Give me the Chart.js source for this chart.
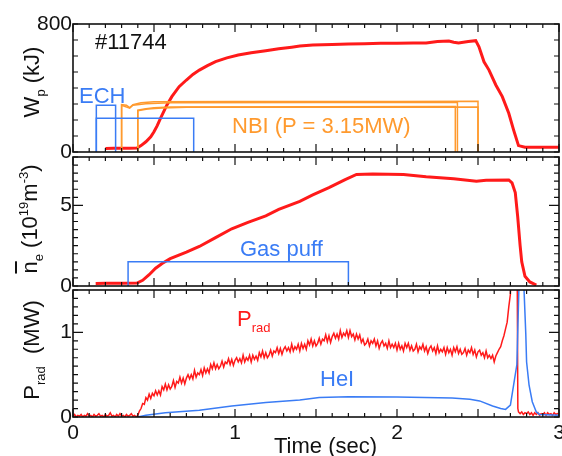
<!DOCTYPE html>
<html><head><meta charset="utf-8">
<script src="https://cdn.jsdelivr.net/npm/chart.js@4/dist/chart.umd.min.js"></script>
<style>
html,body{margin:0;padding:0;background:#fff;}
#wrap{position:relative;width:562px;height:456px;overflow:hidden;background:#fff;font-family:"Liberation Sans",Arial,sans-serif;}
#wrap canvas{position:absolute;left:0;top:0;}
.lab{position:absolute;white-space:nowrap;font-size:22px;line-height:1;}
.rot{transform:translate(-50%,-50%) rotate(-90deg);}
.lab sub{font-size:13px;vertical-align:-6px;line-height:0;}
.lab sup{font-size:13px;vertical-align:9px;line-height:0;}
.ov{text-decoration:overline;}
</style></head><body>
<div id="wrap">
<canvas id="c1" width="562" height="456"></canvas>
<canvas id="c2" width="562" height="456"></canvas>
<canvas id="c3" width="562" height="456"></canvas>
<div class="lab rot" style="left:32px;top:82px;color:#111">W<sub>p</sub> (kJ)</div>
<div class="lab rot" style="left:30px;top:219px;color:#111"><span class="ov">n</span><sub>e</sub> (10<sup>19</sup>m<sup>-3</sup>)</div>
<div class="lab rot" style="left:32px;top:350px;color:#111">P<sub>rad</sub> &nbsp;(MW)</div>
<div class="lab" style="left:95px;top:31px;color:#111">#11744</div>
<div class="lab" style="left:79px;top:85px;color:#3a7cf5">ECH</div>
<div class="lab" style="left:232px;top:115px;color:#ff9a2e">NBI (P = 3.15MW)</div>
<div class="lab" style="left:240px;top:238px;color:#3a7cf5">Gas puff</div>
<div class="lab" style="left:237px;top:308px;color:#ff1a1a">P<sub>rad</sub></div>
<div class="lab" style="left:320px;top:368px;color:#3a7cf5">HeI</div>
<div class="lab" style="left:274px;top:435px;color:#111">Time (sec)</div>
</div>
<script>
// ---- tick labels ----
const timeTicks = [0, 1, 2, 3];
const wpTicks = [0, 800];
const neTicks = [0, 5];
const pradTicks = [0, 1];

// ---- panel 1: Wp (kJ) and heating pulses, [time s, value] ----
const wpRed = [[0.20,22],[0.25,23],[0.30,23],[0.35,24],[0.395,25],[0.42,40],[0.45,64],[0.48,95],[0.50,127],[0.52,165],[0.54,210],[0.56,252],[0.58,294],[0.61,346],[0.655,408],[0.70,450],[0.74,485],[0.78,512],[0.83,540],[0.88,565],[0.95,588],[1.02,606],[1.10,620],[1.19,633],[1.27,645],[1.35,655],[1.40,662],[1.48,669],[1.60,672],[1.70,675],[1.80,677],[1.90,679],[2.00,680],[2.10,681],[2.18,682],[2.25,690],[2.32,694],[2.35,686],[2.38,681],[2.44,690],[2.486,696],[2.506,658],[2.537,564],[2.568,512],[2.61,419],[2.65,346],[2.69,242],[2.72,137],[2.75,40],[2.79,30],[3.00,30]];
const echA = [[0.144,0],[0.144,292],[0.263,292],[0.263,0]];
const echB = [[0.144,0],[0.144,211],[0.745,211],[0.745,0]];
const nbiA = [[0.30,0],[0.30,296],[0.33,292],[0.35,278],[0.37,296],[0.42,308],[0.50,314],[1.00,315],[2.00,316],[2.50,317],[2.50,0]];
const nbiB = [[0.30,0],[0.30,292],[0.35,274],[0.37,292],[0.45,302],[0.60,308],[1.50,309],[2.373,310],[2.373,0]];
const nbiC = [[0.40,0],[0.40,262],[0.45,270],[0.50,277],[0.60,281],[1.50,283],[2.36,284],[2.36,0]];
const nbiD = [[0.40,0],[0.40,258],[0.46,268],[0.55,275],[0.70,279],[1.50,280],[2.50,281],[2.50,0]];

// ---- panel 2: line density (10^19 m^-3) ----
const neRed = [[0.14,0.15],[0.20,0.17],[0.30,0.17],[0.395,0.18],[0.43,0.35],[0.47,0.70],[0.51,1.10],[0.55,1.40],[0.60,1.70],[0.70,2.10],[0.78,2.45],[0.88,3.00],[0.98,3.55],[1.08,3.95],[1.19,4.35],[1.27,4.75],[1.40,5.25],[1.48,5.65],[1.58,6.10],[1.68,6.60],[1.75,6.92],[1.85,6.95],[2.04,6.92],[2.18,6.78],[2.35,6.65],[2.49,6.50],[2.55,6.56],[2.69,6.58],[2.71,6.40],[2.73,5.80],[2.745,4.30],[2.76,2.50],[2.77,1.50],[2.79,0.60],[2.82,0.25],[2.86,0.06]];
const gasPuff = [[0.34,0],[0.34,1.5],[1.70,1.5],[1.70,0]];

// ---- panel 3: radiated power (MW) and HeI ----
const pradRed = [
[0.00,0.01],[0.01,0.03],[0.02,0.00],[0.03,0.02],[0.04,0.01],[0.05,0.03],[0.06,0.00],[0.07,0.02],[0.08,0.01],[0.09,0.04],
[0.10,0.01],[0.11,0.02],[0.12,0.00],[0.13,0.03],[0.14,0.01],[0.15,0.02],[0.16,0.04],[0.17,0.01],[0.18,0.02],[0.19,0.00],
[0.20,0.03],[0.21,0.01],[0.22,0.02],[0.23,0.05],[0.24,0.01],[0.25,0.02],[0.26,0.00],[0.27,0.03],[0.28,0.01],[0.29,0.04],
[0.30,0.01],[0.31,0.02],[0.32,0.00],[0.33,0.03],[0.34,0.01],[0.35,0.02],[0.36,0.04],[0.37,0.01],[0.38,0.02],[0.39,0.00],
[0.40,0.02],[0.41,0.07],[0.42,0.10],[0.43,0.16],[0.44,0.15],[0.45,0.23],[0.46,0.20],[0.47,0.27],[0.48,0.22],[0.49,0.28],
[0.50,0.25],[0.51,0.31],[0.52,0.26],[0.53,0.31],[0.54,0.26],[0.55,0.36],[0.56,0.32],[0.57,0.39],[0.58,0.32],[0.59,0.38],
[0.60,0.33],[0.61,0.36],[0.62,0.43],[0.63,0.35],[0.64,0.42],[0.65,0.40],[0.66,0.47],[0.67,0.40],[0.68,0.46],[0.69,0.39],
[0.70,0.46],[0.71,0.50],[0.72,0.45],[0.73,0.50],[0.74,0.45],[0.75,0.55],[0.76,0.47],[0.77,0.52],[0.78,0.50],[0.79,0.56],
[0.80,0.49],[0.81,0.58],[0.82,0.52],[0.83,0.57],[0.84,0.52],[0.85,0.62],[0.86,0.57],[0.87,0.64],[0.88,0.57],[0.89,0.62],
[0.90,0.57],[0.91,0.60],[0.92,0.66],[0.93,0.59],[0.94,0.65],[0.95,0.63],[0.96,0.69],[0.97,0.62],[0.98,0.68],[0.99,0.61],
[1.00,0.67],[1.01,0.70],[1.02,0.65],[1.03,0.69],[1.04,0.64],[1.05,0.73],[1.06,0.65],[1.07,0.70],[1.08,0.67],[1.09,0.73],
[1.10,0.65],[1.11,0.73],[1.12,0.68],[1.13,0.72],[1.14,0.67],[1.15,0.76],[1.16,0.71],[1.17,0.78],[1.18,0.70],[1.19,0.76],
[1.20,0.70],[1.21,0.73],[1.22,0.79],[1.23,0.72],[1.24,0.78],[1.25,0.76],[1.26,0.82],[1.27,0.75],[1.28,0.81],[1.29,0.74],
[1.30,0.80],[1.31,0.83],[1.32,0.78],[1.33,0.82],[1.34,0.77],[1.35,0.86],[1.36,0.78],[1.37,0.83],[1.38,0.80],[1.39,0.86],
[1.40,0.78],[1.41,0.87],[1.42,0.81],[1.43,0.86],[1.44,0.80],[1.45,0.90],[1.46,0.85],[1.47,0.92],[1.48,0.84],[1.49,0.90],
[1.50,0.84],[1.51,0.87],[1.52,0.93],[1.53,0.86],[1.54,0.92],[1.55,0.90],[1.56,0.97],[1.57,0.89],[1.58,0.96],[1.59,0.88],
[1.60,0.95],[1.61,0.99],[1.62,0.93],[1.63,0.98],[1.64,0.92],[1.65,1.02],[1.66,0.94],[1.67,0.99],[1.68,0.96],[1.69,1.02],
[1.70,0.94],[1.71,1.02],[1.72,0.95],[1.73,0.98],[1.74,0.91],[1.75,0.98],[1.76,0.92],[1.77,0.97],[1.78,0.88],[1.79,0.92],
[1.80,0.85],[1.81,0.87],[1.82,0.92],[1.83,0.84],[1.84,0.90],[1.85,0.87],[1.86,0.92],[1.87,0.84],[1.88,0.90],[1.89,0.81],
[1.90,0.87],[1.91,0.90],[1.92,0.84],[1.93,0.87],[1.94,0.81],[1.95,0.90],[1.96,0.82],[1.97,0.86],[1.98,0.82],[1.99,0.87],
[2.00,0.79],[2.01,0.87],[2.02,0.80],[2.03,0.84],[2.04,0.78],[2.05,0.87],[2.06,0.82],[2.07,0.87],[2.08,0.79],[2.09,0.84],
[2.10,0.78],[2.11,0.80],[2.12,0.86],[2.13,0.77],[2.14,0.83],[2.15,0.80],[2.16,0.86],[2.17,0.78],[2.18,0.83],[2.19,0.75],
[2.20,0.81],[2.21,0.84],[2.22,0.78],[2.23,0.82],[2.24,0.75],[2.25,0.84],[2.26,0.76],[2.27,0.80],[2.28,0.77],[2.29,0.82],
[2.30,0.74],[2.31,0.82],[2.32,0.76],[2.33,0.80],[2.34,0.73],[2.35,0.82],[2.36,0.77],[2.37,0.83],[2.38,0.75],[2.39,0.80],
[2.40,0.74],[2.41,0.76],[2.42,0.81],[2.43,0.73],[2.44,0.79],[2.45,0.76],[2.46,0.82],[2.47,0.74],[2.48,0.79],[2.49,0.71],
[2.50,0.77],[2.51,0.79],[2.52,0.73],[2.53,0.76],[2.54,0.70],[2.55,0.78],[2.56,0.70],[2.57,0.73],[2.58,0.69],[2.59,0.73],
[2.60,0.65],[2.61,0.72],[2.62,0.76],[2.63,0.80],[2.64,0.83],[2.65,0.90],[2.66,0.96],[2.67,1.04],[2.68,1.12],[2.69,1.30],
[2.70,1.45],[2.705,1.80],[2.71,2.50],[2.74,2.50],[2.746,0.10],[2.75,0.06],[2.76,0.04],[2.77,0.06],[2.78,0.03],[2.79,0.05],
[2.80,0.04],[2.81,0.06],[2.82,0.03],[2.83,0.05],[2.84,0.02],[2.85,0.05],[2.86,0.03],[2.87,0.05],[2.88,0.02],[2.89,0.04],
[2.90,0.03],[2.91,0.05],[2.92,0.02],[2.93,0.05],[2.94,0.03],[2.95,0.04],[2.96,0.02],[2.97,0.05],[2.98,0.03],[2.99,0.04],[3.00,0.03]];
const heI = [[0.40,0.00],[0.45,0.02],[0.57,0.05],[0.78,0.08],[0.98,0.13],[1.19,0.17],[1.40,0.20],[1.52,0.23],[1.70,0.24],[2.00,0.235],[2.34,0.225],[2.45,0.21],[2.51,0.19],[2.59,0.13],[2.64,0.10],[2.67,0.09],[2.70,0.14],[2.72,0.38],[2.74,0.62],[2.755,1.70],[2.78,1.70],[2.795,0.98],[2.80,0.65],[2.815,0.38],[2.835,0.18],[2.86,0.06],[2.88,0.03],[3.00,0.02]];

const RED = '#ff1a1a', BLUE = '#3a7cf5', ORANGE = '#ff9a2e', INK = '#111';
const FONT = '"Liberation Sans", Arial, sans-serif';
const xy = a => a.map(p => ({x: p[0], y: p[1]}));
const ds = (arr, color, w) => ({data: xy(arr), borderColor: color, borderWidth: w, pointRadius: 0, fill: false, tension: 0});

const framePlugin = {
  id: 'frame',
  afterDatasetsDraw(chart, args, o) {
    const {ctx, chartArea: a} = chart;
    const xs = chart.scales.x, ys = chart.scales.y;
    ctx.save();
    ctx.strokeStyle = INK;
    ctx.lineWidth = 1.2;
    ctx.beginPath();
    for (let i = 0; i <= 30; i++) {
      const px = xs.getPixelForValue(i / 10);
      const L = (i % 5 === 0) ? 8 : 4;
      ctx.moveTo(px, a.bottom); ctx.lineTo(px, a.bottom - L);
      ctx.moveTo(px, a.top); ctx.lineTo(px, a.top + L);
    }
    for (let j = 0; j <= o.n; j++) {
      const py = ys.getPixelForValue(j * o.step);
      const L = (o.major.includes(j)) ? 10 : 5;
      ctx.moveTo(a.left, py); ctx.lineTo(a.left + L, py);
      ctx.moveTo(a.right, py); ctx.lineTo(a.right - L, py);
    }
    ctx.stroke();
    ctx.lineWidth = 1.6;
    ctx.strokeRect(a.left, a.top, a.right - a.left, a.bottom - a.top);
    ctx.restore();
  }
};

function fixPad(s) { s.paddingTop = 0; s.paddingBottom = 0; s.paddingLeft = 0; s.paddingRight = 0; }

function makeChart(id, datasets, yMax, yTickVals, top, bottom, frameOpts, showX) {
  return new Chart(document.getElementById(id), {
    type: 'line',
    data: {datasets},
    plugins: [framePlugin],
    options: {
      responsive: false, animation: false, events: [],
      layout: {padding: {left: 0, right: 3, top: top, bottom: showX ? 0 : 456 - bottom}},
      plugins: {legend: {display: false}, tooltip: {enabled: false}, frame: frameOpts},
      scales: {
        x: {
          type: 'linear', min: 0, max: 3, display: showX,
          grid: {display: false, drawTicks: false}, border: {display: false},
          ticks: {font: {size: 21, family: FONT}, color: INK, padding: 4, maxRotation: 0},
          afterBuildTicks: s => { s.ticks = timeTicks.map(v => ({value: v})); },
          afterFit: s => { fixPad(s); if (showX) s.height = 456 - bottom; }
        },
        y: {
          type: 'linear', min: 0, max: yMax,
          grid: {display: false, drawTicks: false}, border: {display: false},
          ticks: {font: {size: 21, family: FONT}, color: INK, padding: 1},
          afterBuildTicks: s => { s.ticks = yTickVals.map(v => ({value: v})); },
          afterFit: s => { fixPad(s); s.width = 73; }
        }
      }
    }
  });
}

makeChart('c1', [
  ds(echA, BLUE, 1.5), ds(echB, BLUE, 1.5),
  ds(nbiD, ORANGE, 1.5), ds(nbiC, ORANGE, 1.5), ds(nbiB, ORANGE, 1.5), ds(nbiA, ORANGE, 1.5),
  ds(wpRed, RED, 3)
], 800, wpTicks, 24, 152, {n: 8, step: 100, major: []}, false);

makeChart('c2', [
  ds(gasPuff, BLUE, 1.5), ds(neRed, RED, 3)
], 8, neTicks, 157, 286, {n: 16, step: 0.5, major: [10]}, false);

makeChart('c3', [
  ds(heI, BLUE, 1.5), ds(pradRed, RED, 1.5)
], 1.5, pradTicks, 290, 417, {n: 15, step: 0.1, major: [10]}, true);
</script>
</body></html>
